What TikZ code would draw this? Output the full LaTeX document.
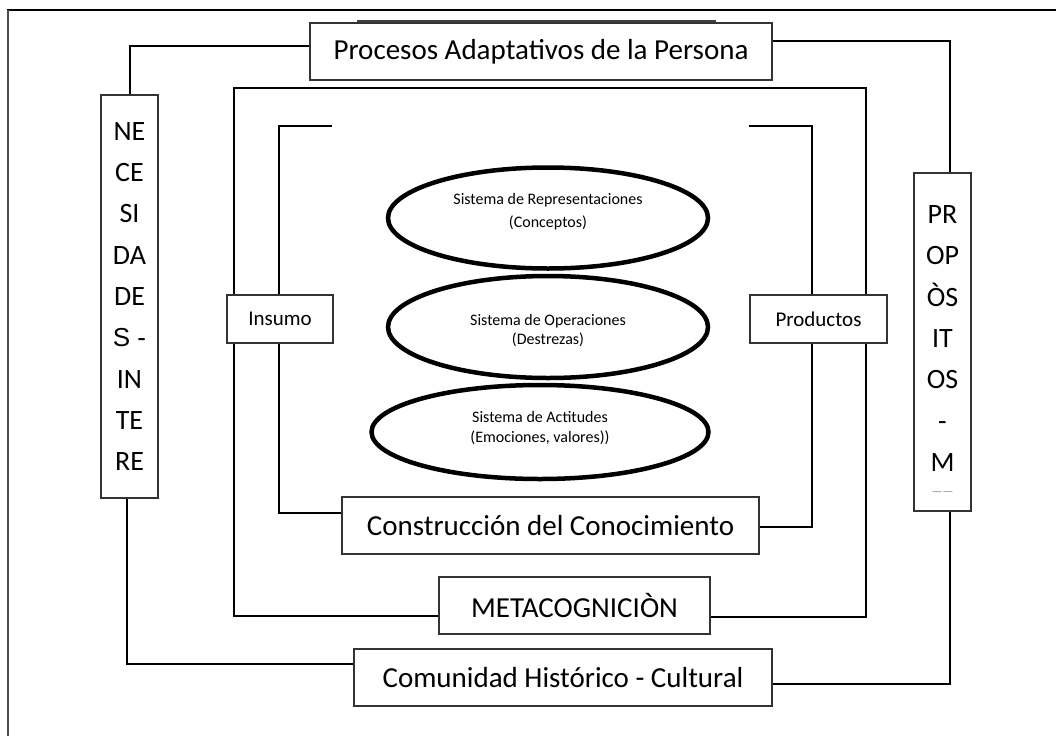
\documentclass[tikz,border=0pt]{standalone}
\usepackage{fontspec}
\setmainfont{Carlito}
\newfontfamily\arialfont{Liberation Sans}
\usetikzlibrary{calc, backgrounds}

\tikzset{
  box/.style={draw=black!80, line width=1.3pt, fill=white, inner sep=0pt,
              font=\fontsize{29}{34}\selectfont},
  colbox/.style={box, minimum width=57pt, align=center,
                 font=\fontsize{28}{41.3}\selectfont},
  smallbox/.style={box, minimum height=48pt, font=\fontsize{21}{25}\selectfont},
  systext/.style={inner sep=0pt, align=center, font=\fontsize{16}{21}\selectfont},
  sysline/.style={line width=4.5pt},
  link/.style={line width=2pt}
}

\begin{document}
\begin{tikzpicture}[x=1pt, y=-1pt]

    \useasboundingbox (0,0) rectangle (1056,736);

    % 1. Frame (top and left only)
    \draw[line width=1.6pt] (7,10) -- (1056,10);
    \draw[line width=2.6pt, black!70] (8,10) -- (8,736);
    \draw[line width=3pt, black!75] (357,21) -- (716,21);

    % 2. Outer boxes
    \node[box, minimum width=462pt, minimum height=57pt] (proc) at (541,51.5)
        {Procesos Adaptativos de la Persona};
    \node[colbox, minimum height=403pt] (nec) at (129.5,296.5)
        {NE\\CE\\SI\\DA\\DE\\{\arialfont\fontsize{26}{41.3}\selectfont S -}\\IN\\TE\\RE};
    \node[colbox, minimum height=338pt] (prop) at (942.5,342)
        {\mbox{}\\[-6pt]PR\\OP\\ÒS\\IT\\OS\\-\\M\\[-17pt]{\fontsize{12}{12}\selectfont\color{black!45}——}};
    \node[box, minimum width=418pt, minimum height=57pt] (comun) at (563,677.5)
        {Comunidad Histórico - Cultural};

    % 3. Inner boxes
    \node[box, minimum width=271pt, minimum height=57pt] (meta) at (574.5,605.5)
        {METACOGNICIÒN};
    \node[box, minimum width=417pt, minimum height=57pt] (constr) at (550.5,525.5)
        {Construcción del Conocimiento};
    \node[smallbox, minimum width=106pt] (insumo) at (280,319) {Insumo};
    \node[smallbox, minimum width=137pt] (productos) at (818.5,319) {Productos};

    % 4. The three systems
    \coordinate (reprC) at (548,218);
    \coordinate (operC) at (548,327);
    \coordinate (actiC) at (540,432);
    \draw[sysline] (reprC) ellipse [x radius=160pt, y radius=50.5pt];
    \draw[sysline] (operC) ellipse [x radius=160pt, y radius=51pt];
    \draw[sysline] (actiC) ellipse [x radius=168.5pt, y radius=47pt];
    \node[systext] (repr) at (548,212)
        {Sistema de Representaciones\\[2pt](Conceptos)};
    \node[systext] (oper) at (548,331)
        {Sistema de Operaciones\\[-2pt](Destrezas)};
    \node[systext] (acti) at (540,428.5)
        {Sistema de Actitudes\\[-1pt](Emociones, valores))};

    % 5. Bracket corners
    \coordinate (bigL) at (234,88);
    \coordinate (bigR) at (866,88);
    \coordinate (inL) at (332,126);
    \coordinate (inLc) at (279,126);
    \coordinate (inR) at (749,126);
    \coordinate (inRc) at (812,126);

    % 6. Connectors behind the boxes
    \begin{pgfonlayer}{background}
    \draw[link] ([yshift=6pt]proc.west) -| (nec.north);
    \draw[link] ([yshift=11pt]proc.east) -| ([xshift=7pt]prop.north);
    \draw[link] ([xshift=-3pt]nec.south) |- ([yshift=14pt]comun.west);
    \draw[link] ([yshift=-6pt]comun.east) -| ([xshift=7pt]prop.south);
    \draw[link] ([yshift=-10pt]meta.west) -| (bigL) -- (bigR)
                |- ([yshift=-11pt]meta.east);
    \draw[link] (inL) -- (inLc) |- ([yshift=13pt]constr.west);
    \draw[link] (inR) -- (inRc) |- ([yshift=-1pt]constr.east);
    \end{pgfonlayer}

\end{tikzpicture}
\end{document}
